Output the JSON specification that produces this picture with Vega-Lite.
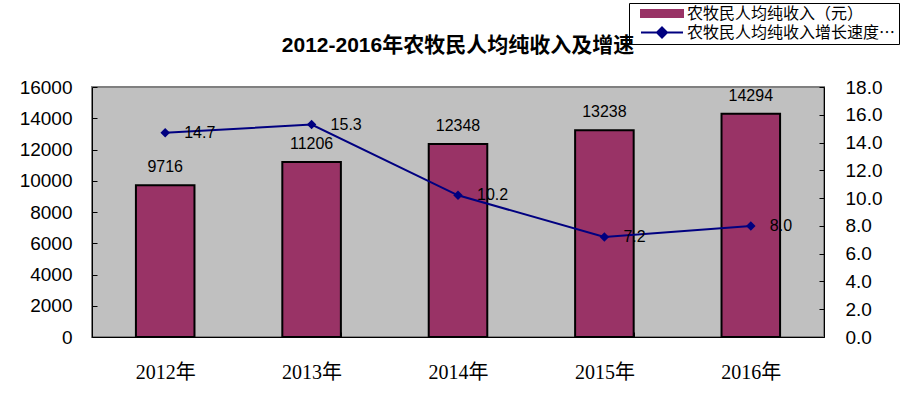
{
  "$schema": "https://vega.github.io/schema/vega-lite/v6.json",
  "width": 732,
  "height": 250,
  "autosize": {"type": "none"},
  "padding": {"left": 92, "top": 87, "right": 78, "bottom": 59},
  "background": "#ffffff",
  "title": {
    "text": "2012-2016年农牧民人均纯收入及增速",
    "font": "Liberation Sans, Noto Sans CJK SC",
    "fontSize": 21,
    "fontWeight": "bold",
    "color": "#000000",
    "anchor": "middle",
    "frame": "group",
    "offset": -53
  },
  "data": {
    "values": [
      {"year": "2012年", "income": 9716, "growth": 14.7},
      {"year": "2013年", "income": 11206, "growth": 15.3},
      {"year": "2014年", "income": 12348, "growth": 10.2},
      {"year": "2015年", "income": 13238, "growth": 7.2},
      {"year": "2016年", "income": 14294, "growth": 8.0}
    ]
  },
  "config": {
    "view": {"fill": "#C0C0C0", "stroke": "#808080", "strokeWidth": 2},
    "axis": {
      "grid": false,
      "domainColor": "#000000",
      "domainWidth": 1,
      "tickColor": "#000000",
      "tickSize": -5,
      "labelColor": "#000000",
      "title": null
    }
  },
  "encoding": {
    "x": {
      "field": "year",
      "type": "nominal",
      "sort": null,
      "scale": {"paddingInner": 0.6, "paddingOuter": 0.3},
      "axis": {
        "labelAngle": 0,
        "labelFont": "Liberation Serif, Noto Sans CJK SC",
        "labelFontSize": 20,
        "labelPadding": 30,
        "tickBand": "extent",
        "title": null
      }
    }
  },
  "layer": [
    {
      "encoding": {
        "y": {
          "field": "income",
          "type": "quantitative",
          "scale": {"domain": [0, 16000], "nice": false},
          "axis": {
            "orient": "left",
            "values": [0, 2000, 4000, 6000, 8000, 10000, 12000, 14000, 16000],
            "format": "d",
            "labelFont": "Liberation Sans",
            "labelFontSize": 19,
            "labelPadding": 25,
            "title": null
          }
        }
      },
      "layer": [
        {
          "mark": {"type": "bar", "stroke": "#000000", "strokeWidth": 2},
          "encoding": {
            "color": {
              "datum": "农牧民人均纯收入（元）",
              "type": "nominal",
              "scale": {
                "domain": ["农牧民人均纯收入（元）", "农牧民人均纯收入增长速度（%）"],
                "range": ["#993366", "#000080"]
              },
              "legend": {
                "orient": "none",
                "legendX": 537,
                "legendY": -84,
                "title": null,
                "direction": "vertical",
                "fillColor": "#ffffff",
                "strokeColor": "#000000",
                "padding": 3,
                "symbolSize": 1764,
                "symbolStrokeWidth": 2,
                "symbolOffset": 8,
                "clipHeight": 15,
                "rowPadding": 2,
                "labelFont": "Noto Sans CJK SC",
                "labelFontSize": 16,
                "labelColor": "#000000",
                "labelLimit": 210,
                "labelOffset": 3,
                "encoding": {
                  "symbols": {
                    "shape": {"value": {"expr": "datum.value === '农牧民人均纯收入（元）' ? 'M-1,-0.17H1V0.17H-1Z' : 'M-1,0L1,0M0,-0.24L0.24,0L0,0.24L-0.24,0Z'"}},
                    "fill": {"value": {"expr": "datum.value === '农牧民人均纯收入（元）' ? '#993366' : '#000080'"}},
                    "stroke": {"value": {"expr": "datum.value === '农牧民人均纯收入（元）' ? '#000000' : '#000080'"}},
                    "strokeWidth": {"value": 2},
                    "opacity": {"value": 1}
                  }
                }
              }
            }
          }
        },
        {
          "mark": {"type": "text", "dy": -13, "baseline": "alphabetic", "font": "Liberation Sans", "fontSize": 16, "color": "#000000"},
          "encoding": {"text": {"field": "income", "type": "quantitative", "format": "d"}}
        }
      ]
    },
    {
      "encoding": {
        "y": {
          "field": "growth",
          "type": "quantitative",
          "scale": {"domain": [0, 18], "nice": false},
          "axis": {
            "orient": "right",
            "values": [0, 2, 4, 6, 8, 10, 12, 14, 16, 18],
            "format": ".1f",
            "labelFont": "Liberation Sans",
            "labelFontSize": 19,
            "labelPadding": 26,
            "title": null
          }
        }
      },
      "layer": [
        {
          "mark": {"type": "line", "strokeWidth": 2, "point": {"shape": "diamond", "size": 90, "filled": true}},
          "encoding": {
            "color": {"datum": "农牧民人均纯收入增长速度（%）", "type": "nominal"}
          }
        },
        {
          "mark": {"type": "text", "align": "left", "baseline": "middle", "dx": 19, "font": "Liberation Sans", "fontSize": 16, "color": "#000000"},
          "encoding": {"text": {"field": "growth", "type": "quantitative", "format": ".1f"}}
        }
      ]
    }
  ],
  "resolve": {"scale": {"y": "independent"}}
}
